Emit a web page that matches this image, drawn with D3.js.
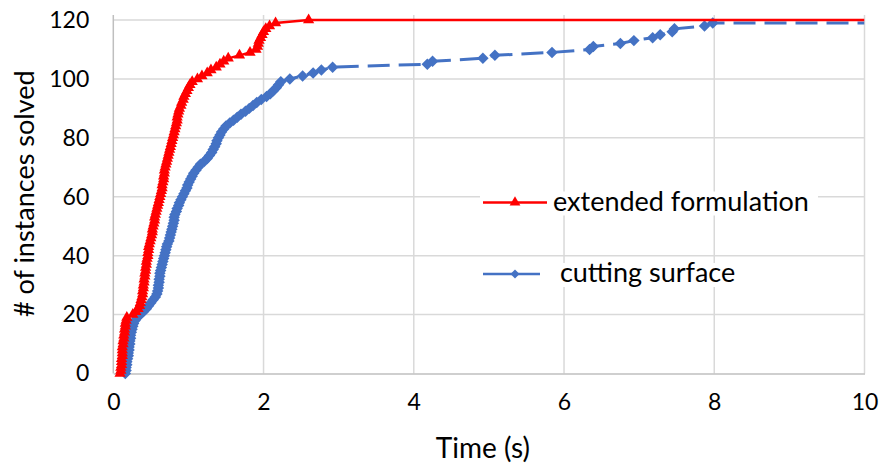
<!DOCTYPE html>
<html><head><meta charset="utf-8">
<script src="https://cdn.jsdelivr.net/npm/d3@7"></script>
<style>body{margin:0;background:#fff}svg{display:block}</style>
</head><body>
<svg id="c" width="881" height="466"></svg>
<script>
// ---------------- data ----------------
const xTickValues = [0, 2, 4, 6, 8, 10];
const yTickValues = [0, 20, 40, 60, 80, 100, 120];
const seriesNames = ["extended formulation", " cutting surface"];
const timeMax = 10;

// extended formulation: time (s) at which each count of instances was solved
const extTimes = [0.09,0.10,0.10,0.11,0.11,0.11,0.12,0.12,0.12,0.12,
  0.13,0.13,0.14,0.14,0.15,0.15,0.16,0.16,0.17,0.18,
  0.26,0.30,0.33,0.35,0.36,0.37,0.38,0.39,0.39,0.40,
  0.40,0.41,0.41,0.42,0.42,0.43,0.43,0.44,0.44,0.45,
  0.46,0.46,0.47,0.47,0.48,0.49,0.50,0.51,0.52,0.52,
  0.53,0.54,0.55,0.55,0.56,0.57,0.58,0.59,0.60,0.61,
  0.62,0.63,0.64,0.65,0.65,0.66,0.67,0.67,0.68,0.68,
  0.69,0.70,0.71,0.72,0.73,0.74,0.75,0.76,0.77,0.78,
  0.79,0.80,0.81,0.82,0.83,0.84,0.85,0.85,0.86,0.87,
  0.88,0.90,0.91,0.93,0.94,0.96,0.98,1.00,1.02,1.05,
  1.12,1.18,1.25,1.30,1.37,1.42,1.47,1.53,1.68,1.82,
  1.90,1.92,1.93,1.94,1.96,1.98,2.00,2.03,2.08,2.16,
  2.60];
const extCounts = [0,1,2,3,4,5,6,7,8,9,
  10,11,12,13,14,15,16,17,18,19,
  20,21,22,23,24,25,26,27,28,29,
  30,31,32,33,34,35,36,37,38,39,
  40,41,42,43,44,45,46,47,48,49,
  50,51,52,53,54,55,56,57,58,59,
  60,61,62,63,64,65,66,67,68,69,
  70,71,72,73,74,75,76,77,78,79,
  80,81,82,83,84,85,86,87,88,89,
  90,91,92,93,94,95,96,97,98,99,
  100,101,102,103,104,105,106,107,108,109,
  110,111,112,113,114,115,116,117,118,119,
  120];

// cutting surface
const cutTimes = [0.16,0.17,0.17,0.18,0.18,0.19,0.20,0.20,0.21,0.21,
  0.22,0.22,0.23,0.23,0.24,0.25,0.26,0.27,0.29,0.32,
  0.36,0.40,0.44,0.47,0.50,0.53,0.56,0.58,0.59,0.60,
  0.60,0.61,0.61,0.62,0.62,0.63,0.64,0.65,0.66,0.67,
  0.68,0.69,0.70,0.71,0.72,0.74,0.75,0.76,0.77,0.78,
  0.79,0.80,0.81,0.81,0.82,0.84,0.85,0.87,0.88,0.90,
  0.92,0.94,0.96,0.98,0.99,1.01,1.03,1.05,1.07,1.10,
  1.13,1.16,1.21,1.25,1.28,1.31,1.33,1.35,1.37,1.38,
  1.40,1.42,1.44,1.47,1.50,1.55,1.60,1.65,1.70,1.76,
  1.81,1.86,1.91,1.97,2.04,2.09,2.13,2.17,2.20,2.23,
  2.35,2.52,2.66,2.77,2.92,4.18,4.25,4.92,5.08,5.84,
  6.34,6.39,6.75,6.93,7.18,7.28,7.44,7.47,7.87,7.98];
const cutCounts = [0,1,2,3,4,5,6,7,8,9,
  10,11,12,13,14,15,16,17,18,19,
  20,21,22,23,24,25,26,27,28,29,
  30,31,32,33,34,35,36,37,38,39,
  40,41,42,43,44,45,46,47,48,49,
  50,51,52,53,54,55,56,57,58,59,
  60,61,62,63,64,65,66,67,68,69,
  70,71,72,73,74,75,76,77,78,79,
  80,81,82,83,84,85,86,87,88,89,
  90,91,92,93,94,95,96,97,98,99,
  100,101,102,103,104,105,106,107,108,109,
  110,111,112,113,114,115,116,117,118,119];

// ---------------- chart ----------------
const FONT = "Lato, 'Open Sans', sans-serif";
const RED = "#FF0000", BLUE = "#4472C4", GRID = "#D9D9D9", AXIS = "#BFBFBF";
const svg = d3.select("#c");
const plot = {left: 113.3, right: 864.5, top: 20, bottom: 373.5};
const x = d3.scaleLinear().domain([0, timeMax]).range([plot.left, plot.right]);
const y = d3.scaleLinear().domain([0, 120]).range([plot.bottom, plot.top]);

svg.append("rect").attr("width", 881).attr("height", 466).attr("fill", "#fff");

// gridlines
svg.append("g").selectAll("line").data(yTickValues.filter(d => d > 0)).join("line")
  .attr("x1", plot.left).attr("x2", plot.right)
  .attr("y1", d => y(d)).attr("y2", d => y(d))
  .attr("stroke", GRID).attr("stroke-width", 1.5);
svg.append("g").selectAll("line").data(xTickValues.filter(d => d > 0)).join("line")
  .attr("y1", plot.top - 5).attr("y2", plot.bottom)
  .attr("x1", d => x(d)).attr("x2", d => x(d))
  .attr("stroke", GRID).attr("stroke-width", 1.5);

// axes
const xAxis = d3.axisBottom(x).tickValues(xTickValues).tickSize(0).tickPadding(20).tickFormat(d3.format("d"));
const gx = svg.append("g").attr("transform", `translate(0,${plot.bottom})`).call(xAxis);
gx.select(".domain").attr("stroke", AXIS).attr("stroke-width", 1.5);
gx.selectAll("text").attr("font-family", FONT).attr("font-size", 23).attr("fill", "#000");

const yAxis = d3.axisLeft(y).tickValues(yTickValues).tickSize(0).tickPadding(24).tickFormat(d3.format("d"));
const gy = svg.append("g").attr("transform", `translate(${plot.left},0)`).call(yAxis);
gy.select(".domain").attr("stroke", AXIS).attr("stroke-width", 1.5).attr("d", `M0,${plot.top - 5}V${plot.bottom}`);
gy.selectAll("text").attr("font-family", FONT).attr("font-size", 23).attr("fill", "#000");

// axis titles
svg.append("text").attr("x", (plot.left + plot.right) / 2 - 6).attr("y", 458)
  .attr("text-anchor", "middle").attr("font-family", FONT).attr("font-size", 28).attr("fill", "#000")
  .text("Time (s)");
svg.append("text").attr("transform", `translate(34,${(plot.top + plot.bottom) / 2 - 3}) rotate(-90)`)
  .attr("text-anchor", "middle").attr("font-family", FONT).attr("font-size", 27).attr("fill", "#000")
  .text("# of instances solved");

// clip
svg.append("clipPath").attr("id", "clip").append("rect")
  .attr("x", plot.left - 10).attr("y", plot.top - 12).attr("width", plot.right - plot.left + 10)
  .attr("height", plot.bottom - plot.top + 24);

const line = d3.line().x(d => x(d[0])).y(d => y(d[1]));
const extPts = extTimes.map((t, i) => [t, extCounts[i]]);
const cutPts = cutTimes.map((t, i) => [t, cutCounts[i]]);
const extLine = extPts.concat([[timeMax, extCounts[extCounts.length - 1]]]);
const cutLine = cutPts.concat([[timeMax, cutCounts[cutCounts.length - 1]]]);

const triangle = d3.symbol().type(d3.symbolTriangle).size(55);
const diamond = d3.symbol().type(d3.symbolSquare).size(66);

const g = svg.append("g").attr("clip-path", "url(#clip)");
// cutting surface first (behind)
g.append("path").attr("d", line(cutLine)).attr("fill", "none").attr("stroke", BLUE)
  .attr("stroke-width", 3).attr("stroke-dasharray", "22,9");
g.append("g").selectAll("path").data(cutPts).join("path")
  .attr("d", diamond).attr("fill", BLUE)
  .attr("transform", d => `translate(${x(d[0])},${y(d[1])}) rotate(45)`);
// extended formulation
g.append("path").attr("d", line(extLine)).attr("fill", "none").attr("stroke", RED).attr("stroke-width", 2.5);
g.append("g").selectAll("path").data(extPts).join("path")
  .attr("d", triangle).attr("fill", RED)
  .attr("transform", d => `translate(${x(d[0])},${y(d[1])})`);

// legend
const leg = svg.append("g");
const legendItems = [
  {name: seriesNames[0], color: RED, sym: d3.symbol().type(d3.symbolTriangle).size(50), rot: 0, y: 202.5, x2: 547, bx: [480, 818]},
  {name: seriesNames[1], color: BLUE, sym: d3.symbol().type(d3.symbolSquare).size(40), rot: 45, y: 274, x2: 540, bx: [480, 800]}
];
legendItems.forEach(it => {
  leg.append("rect").attr("x", it.bx[0]).attr("y", it.y - 11).attr("width", it.bx[1] - it.bx[0]).attr("height", 24).attr("fill", "#fff");
  leg.append("line").attr("x1", 483).attr("x2", it.x2).attr("y1", it.y).attr("y2", it.y)
    .attr("stroke", it.color).attr("stroke-width", 2.5);
  leg.append("path").attr("d", it.sym).attr("fill", it.color)
    .attr("transform", `translate(515,${it.y}) rotate(${it.rot})`);
  leg.append("text").attr("x", 553).attr("y", it.y + 8).attr("font-family", FONT).attr("font-size", 27)
    .attr("fill", "#000").attr("xml:space", "preserve").style("white-space", "pre").text(it.name);
});
</script>
</body></html>
